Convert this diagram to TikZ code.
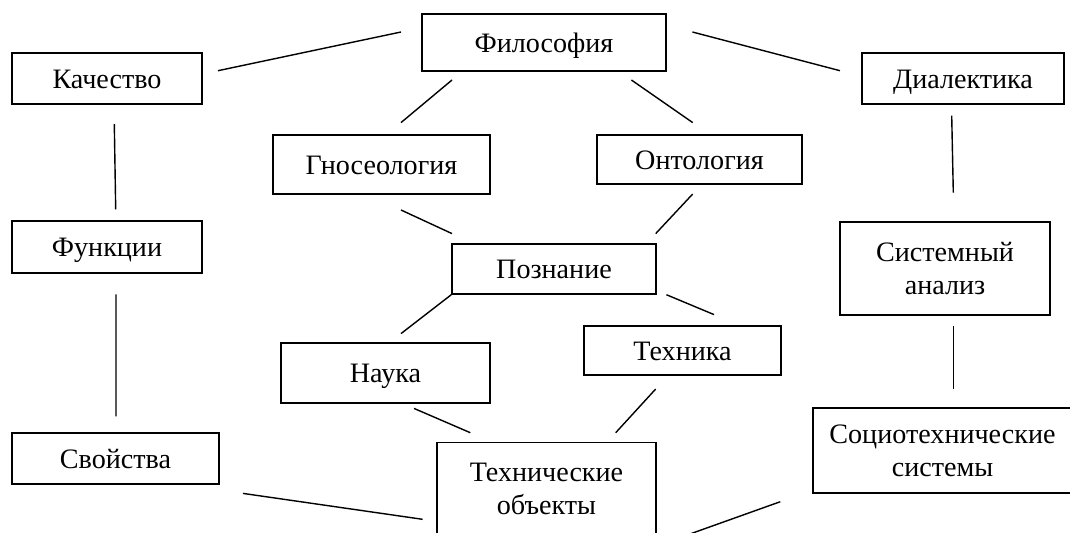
\documentclass[tikz,border=0pt]{standalone}
\usepackage{fontspec}
\setmainfont{Liberation Serif}
\newcommand{\pxu}{0.025cm}
\tikzset{
  box/.style={draw, line width=1pt, inner sep=0pt, align=center,
    font=\fontsize{20}{23.5}\selectfont},
  onebox/.style={box, text height=16pt, text depth=2pt},
  link/.style={line width=1pt},
}
\begin{document}
\begin{tikzpicture}[x=0.025cm, y=-0.025cm]
  \useasboundingbox (0,0) rectangle (1070,532);
  \clip (0,0) rectangle (1070,532);

  % Boxes
  \node[onebox, minimum width=244*\pxu, minimum height=57*\pxu] (filo) at (544,42.5) {Философия};
  \node[onebox, minimum width=190*\pxu, minimum height=51*\pxu] (kach) at (107,78.5) {Качество};
  \node[onebox, minimum width=202*\pxu, minimum height=51*\pxu] (dial) at (963,78.5) {Диалектика};
  \node[onebox, minimum width=217*\pxu, minimum height=59*\pxu] (gnos) at (381.5,164.5) {Гносеология};
  \node[onebox, minimum width=205*\pxu, minimum height=49*\pxu] (onto) at (699.5,159.5) {Онтология};
  \node[onebox, minimum width=190*\pxu, minimum height=52*\pxu] (func) at (107,247) {Функции};
  \node[box, minimum width=210*\pxu, minimum height=93*\pxu] (sist) at (945,268.5) {Системный\\анализ};
  \node[onebox, minimum width=204*\pxu, minimum height=50*\pxu] (pozn) at (554,269) {Познание};
  \node[onebox, minimum width=209*\pxu, minimum height=60*\pxu] (nauka) at (385.5,373) {Наука};
  \node[onebox, minimum width=197*\pxu, minimum height=49*\pxu] (tekh) at (682.5,350.5) {Техника};
  \node[onebox, minimum width=207*\pxu, minimum height=51*\pxu] (svoi) at (115.5,458.5) {Свойства};
  \node[box, anchor=north, minimum width=219*\pxu, inner ysep=0.5cm, text depth=0.75cm] (tobj) at (546.5,442) {Технические\\объекты};
  \node[box, minimum width=259*\pxu, minimum height=85*\pxu] (soc) at (942.5,450.5) {Социотехнические\\системы};

  % Links from the top
  \draw[link] ([shift={(15.3,-7.8)}]kach.east) -- ([shift={(-20.3,-10.5)}]filo.west);
  \draw[link] ([shift={(30.7,8.3)}]filo.south west) -- ([shift={(19.5,-11.7)}]gnos.north);
  \draw[link] ([shift={(-35.3,8.3)}]filo.south east) -- ([shift={(-6.8,-11.7)}]onto.north);
  \draw[link] ([shift={(25.7,-10.5)}]filo.east) -- ([shift={(-21.3,-7.8)}]dial.west);

  % Left and right columns
  \draw[link] ([shift={(7.3,19.3)}]kach.south) -- ([shift={(8.7,-11)}]func.north);
  \draw[link] ([shift={(9,20.7)}]func.south) -- ([shift={(0.5,-16)}]svoi.north);
  \draw[link] ([shift={(-11.3,11)}]dial.south) -- ([shift={(8.3,-28.7)}]sist.north);
  \draw[link] ([shift={(8.3,10.3)}]sist.south) -- ([shift={(10.8,-18.7)}]soc.north);

  % Middle
  \draw[link] ([shift={(19.5,15.3)}]gnos.south) -- ([shift={(0.7,-9.7)}]pozn.north west);
  \draw[link] ([shift={(-6.8,9.3)}]onto.south) -- ([shift={(-1,-9.7)}]pozn.north east);
  \draw[link] (pozn.south west) -- ([shift={(15.5,-8.7)}]nauka.north);
  \draw[link] ([shift={(9.7,0)}]pozn.south east) -- ([shift={(31.5,-10.7)}]tekh.north);
  \draw[link] ([shift={(28.5,4.7)}]nauka.south) -- ([shift={(34,-9.3)}]tobj.north west);
  \draw[link] ([shift={(-26.8,13.3)}]tekh.south) -- ([shift={(-41,-9.3)}]tobj.north east);

  % Links to the bottom box
  \draw[link] ([shift={(23.3,8.7)}]svoi.south east) -- ([shift={(-13.7,77.3)}]tobj.north west);
  \draw[link] ([shift={(-32,8)}]soc.south west) -- ([shift={(8,101)}]tobj.north east);
\end{tikzpicture}
\end{document}
